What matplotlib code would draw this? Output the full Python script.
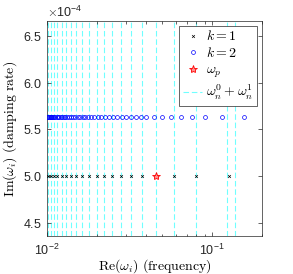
import numpy as np
import matplotlib
matplotlib.use("Agg")
import matplotlib.pyplot as plt
from matplotlib.ticker import ScalarFormatter, LogLocator, NullFormatter

plt.rcParams['font.family'] = ['Liberation Sans', 'DejaVu Sans']
plt.rcParams['mathtext.fontset'] = 'cm'

# k = 1 modes (real part, imag part)
re_k1 = [0.01018, 0.01058, 0.01103, 0.01159, 0.01226, 0.01306, 0.01391, 0.01503,
         0.01635, 0.01804, 0.02009, 0.02226, 0.02480, 0.02799, 0.03221, 0.03780,
         0.04601, 0.05866, 0.08025, 0.1258]
im_k1 = 5.0e-4

# k = 2 modes
re_k2 = [0.01007, 0.01017, 0.01028, 0.01040, 0.01052, 0.01065, 0.01079, 0.01094,
         0.01110, 0.01127, 0.01144, 0.01164, 0.01185, 0.01209, 0.01234, 0.01262,
         0.01293, 0.01326, 0.01362, 0.01401, 0.01443, 0.01488, 0.01537, 0.01589,
         0.01646, 0.01710, 0.01778, 0.01855, 0.0194, 0.0203, 0.0214, 0.0225,
         0.0237, 0.0251, 0.0266, 0.0283, 0.0302, 0.0322, 0.0344, 0.0369,
         0.0400, 0.0443, 0.0496, 0.0562, 0.0650, 0.0752, 0.0910, 0.1151, 0.1552]
im_k2 = 5.63e-4

# pump frequency
re_p = 0.0460
im_p = 5.0e-4

# omega_n^0 + omega_n^1 (vertical lines)
re_lines = [0.01018, 0.01058, 0.01103, 0.01159, 0.01226, 0.01306, 0.01391, 0.01503,
            0.01635, 0.01804, 0.02009, 0.02226, 0.02480, 0.02799, 0.03221, 0.03780,
            0.04601, 0.05866, 0.0795, 0.1229, 0.1372]

fig = plt.figure(figsize=(2.93, 2.74), dpi=100)
ax = fig.add_axes([0.160, 0.139, 0.734, 0.784])

for i, xv in enumerate(re_lines):
    ax.axvline(xv, color='#70ffff', ls=(0, (5, 2.5)), lw=0.8,
               label=r'$\omega_n^0+\omega_n^1$' if i == 0 else None, zorder=1)

ax.plot(re_k1, [im_k1] * len(re_k1), 'x', color='k', ms=2.0, mew=0.5,
        label=r'$k=1$', zorder=3)
ax.plot(re_k2, [im_k2] * len(re_k2), 'o', color='b', mfc='none', ms=2.8, mew=0.5,
        label=r'$k=2$', zorder=3)
ax.plot([re_p], [im_p], '*', color='r', mfc='#ff9090', ms=6, mew=0.6,
        label=r'$\omega_p$', zorder=4)

ax.set_xscale('log')
ax.set_xlim(0.01, 0.2)
ax.set_ylim(4.36e-4, 6.66e-4)
ax.set_yticks([4.5e-4, 5e-4, 5.5e-4, 6e-4, 6.5e-4])
fmt = ScalarFormatter(useMathText=True)
fmt.set_powerlimits((-3, 3))
ax.yaxis.set_major_formatter(fmt)
ax.yaxis.get_offset_text().set_fontsize(9)
ax.xaxis.set_major_locator(LogLocator(base=10))
ax.xaxis.set_minor_locator(LogLocator(base=10, subs=np.arange(2, 10)))
ax.xaxis.set_minor_formatter(NullFormatter())

ax.tick_params(which='both', direction='in', top=True, right=True,
               colors='#262626', labelsize=9, width=0.5)
ax.tick_params(which='major', length=3)
ax.tick_params(which='minor', length=1.8)
ax.tick_params(axis='x', pad=5)
for s in ax.spines.values():
    s.set_color('#262626')
    s.set_linewidth(0.5)

ax.set_xlabel(r'$\mathrm{Re}(\omega_i)\ \mathrm{(frequency)}$', fontsize=10)
ax.xaxis.set_label_coords(0.5, -0.1)
ax.set_ylabel(r'$\mathrm{Im}(\omega_i)\ \mathrm{(damping\ rate)}$', fontsize=10, labelpad=3)

h, l = ax.get_legend_handles_labels()
order = [1, 2, 3, 0]
leg = ax.legend([h[i] for i in order], [l[i] for i in order], loc='upper right',
                fontsize=10, fancybox=False, edgecolor='#262626', framealpha=1,
                borderaxespad=0.35, handlelength=1.4, handletextpad=0.3,
                labelspacing=0.2, borderpad=0.25)
leg.get_frame().set_linewidth(0.5)

fig.savefig('out.png', dpi=100)
